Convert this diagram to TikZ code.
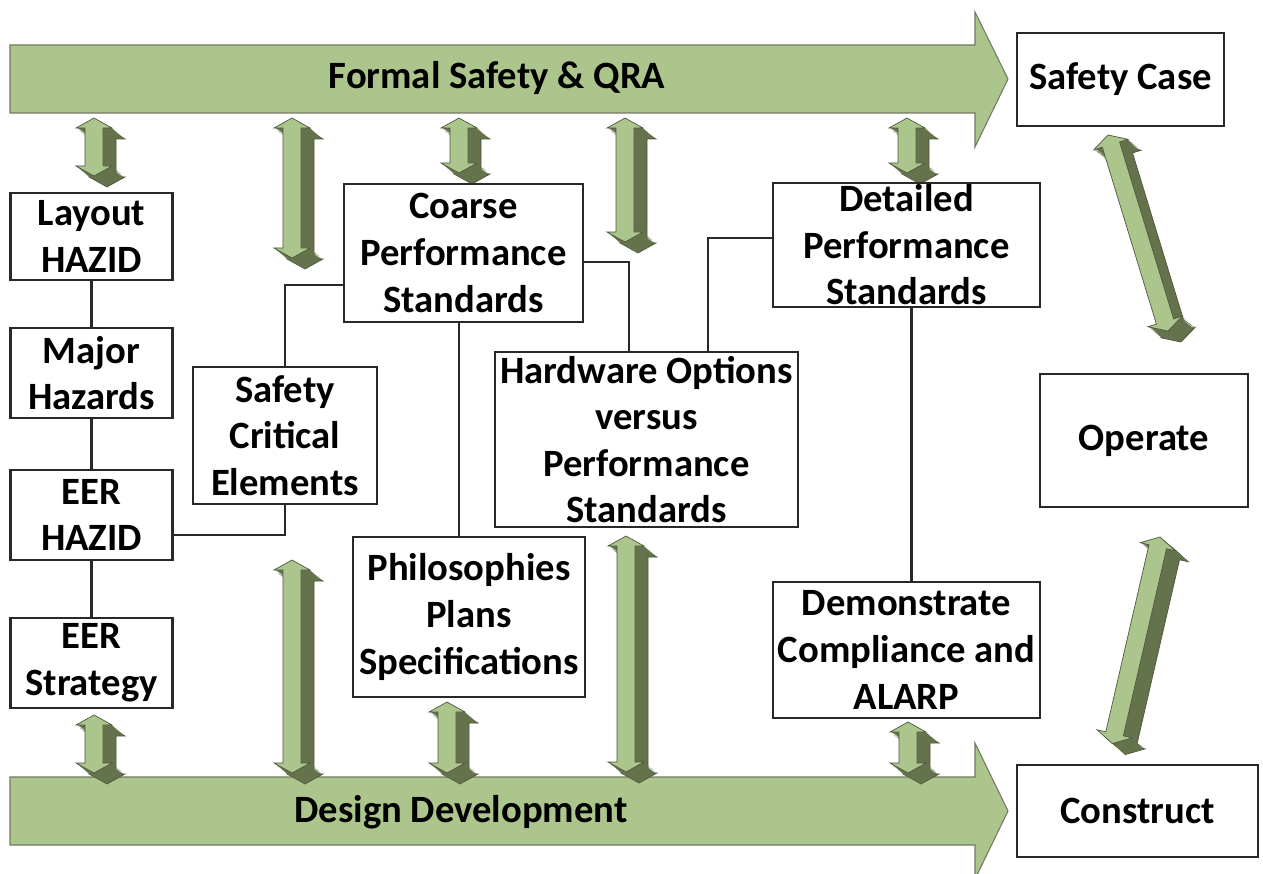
\documentclass[tikz,border=0pt]{standalone}
\usepackage{fontspec}
\setmainfont{Carlito}
\usetikzlibrary{calc,positioning}
\definecolor{fl}{RGB}{172,197,140}
\definecolor{fd}{RGB}{100,115,75}
\definecolor{fe}{RGB}{78,88,64}
\definecolor{bx}{RGB}{40,40,40}
\tikzset{
  box/.style={
    draw=bx,
    line width=1.2pt,
    fill=white,
    align=center,
    inner xsep=0pt,
    inner ysep=-3pt,
    font=\bfseries\fontsize{22}{26.5}\selectfont
  },
  link/.style={draw=bx, line width=1.2pt},
  bigarrow/.style={fill=fl, draw=fe!80, line width=0.6pt},
  bigtext/.style={font=\bfseries\fontsize{22}{26}\selectfont}
}
% up-down arrow with a dark side: apex x, apex y, length, angle
\newcommand{\updown}[4]{
\foreach \t in {10,...,1}{
\path[fill=fd, draw=fe, line width=0.4pt, draw opacity={\t==10 ? 1 : 0}, shift={(1.3*\t,1.1*\t)}, shift={(#1,#2)}, rotate=#4]
  (0,0) -- (18,10) -- (9,10) -- (9,#3-10) -- (18,#3-10) -- (0,#3) -- (-18,#3-10) -- (-9,#3-10) -- (-9,10) -- (-18,10) -- cycle;
}
\draw[fill=fl, draw=fe, line width=0.4pt, shift={(#1,#2)}, rotate=#4]
  (0,0) -- (18,10) -- (9,10) -- (9,#3-10) -- (18,#3-10) -- (0,#3) -- (-18,#3-10) -- (-9,#3-10) -- (-9,10) -- (-18,10) -- cycle;
}

\begin{document}
\begin{tikzpicture}[x=0.02cm, y=-0.02cm]
\useasboundingbox (0,0) rectangle (1263,874);

\draw[bigarrow] (10,45) -- (975,45) -- (975,12) -- (1008,79) -- (975,147) -- (975,113) -- (10,113) -- cycle;
\node[bigtext] (fsq) at (497,78) {Formal Safety \& QRA};
\draw[bigarrow] (10,777) -- (975,777) -- (975,743) -- (1008,811) -- (975,879) -- (975,845) -- (10,845) -- cycle;
\node[bigtext] (dd) at (461,812) {Design Development};

\updown{94}{118}{58}{0}
\updown{292}{118}{140}{0}
\updown{459}{118}{55}{0}
\updown{625}{118}{124}{0}
\updown{907}{118}{55}{0}
\updown{94}{715}{58}{0}
\updown{292}{560}{213}{0}
\updown{447}{702}{71}{0}
\updown{626}{536}{236}{0}
\updown{908}{722}{51}{0}
\updown{1108}{135}{205}{17}
\updown{1160}{537}{212}{-13}

\node[box, minimum width=3.24cm, minimum height=1.74cm] (lay) at (91.5,236.5) {Layout\\HAZID};
\node[box, minimum width=3.24cm, minimum height=1.8cm] (maj) at (91.5,373) {Major\\Hazards};
\node[box, minimum width=3.24cm, minimum height=1.8cm] (eerh) at (91.5,515) {EER\\HAZID};
\node[box, minimum width=3.24cm, minimum height=1.8cm] (eers) at (91.5,663) {EER\\Strategy};
\node[box, minimum width=3.68cm, minimum height=2.74cm] (sce) at (285,435.5) {Safety\\Critical\\Elements};
\node[box, minimum width=4.78cm, minimum height=2.76cm] (cps) at (463.5,253) {Coarse\\Performance\\Standards};
\node[box, minimum width=4.64cm, minimum height=3.2cm] (pps) at (469,617) {Philosophies\\Plans\\Specifications};
\node[box, minimum width=6.06cm, minimum height=3.5cm] (hw) at (646.5,439.5) {Hardware Options\\versus\\Performance\\Standards};
\node[box, minimum width=5.34cm, minimum height=2.48cm] (dps) at (906.5,245) {Detailed\\Performance\\Standards};
\node[box, minimum width=5.34cm, minimum height=2.72cm] (dca) at (906.5,650) {Demonstrate\\Compliance and\\ALARP};
\node[box, minimum width=4.14cm, minimum height=1.86cm] (sc) at (1120.5,79.5) {Safety Case};
\node[box, minimum width=4.16cm, minimum height=2.66cm] (op) at (1144,440.5) {Operate};
\node[box, minimum width=4.82cm, minimum height=1.84cm] (con) at (1137.5,811) {Construct};

\draw[link] (lay) -- (maj);
\draw[link] (maj) -- (eerh);
\draw[link] (eerh) -- (eers);
\draw[link] ([yshift=-0.4cm]eerh.east) -| (sce.south);
\draw[link] (sce.north) |- ([yshift=-0.64cm]cps.west);
\draw[link] ([xshift=-0.09cm]cps.south) -- ([xshift=-0.09cm]cps.south |- pps.north);
\draw[link] ([yshift=-0.18cm]cps.east) -| ([xshift=-0.35cm]hw.north);
\draw[link] ([xshift=1.23cm]hw.north) |- ([yshift=0.14cm]dps.west);
\draw[link] ([xshift=0.1cm]dps.south) -- ([xshift=0.1cm]dca.north);
\end{tikzpicture}
\end{document}
